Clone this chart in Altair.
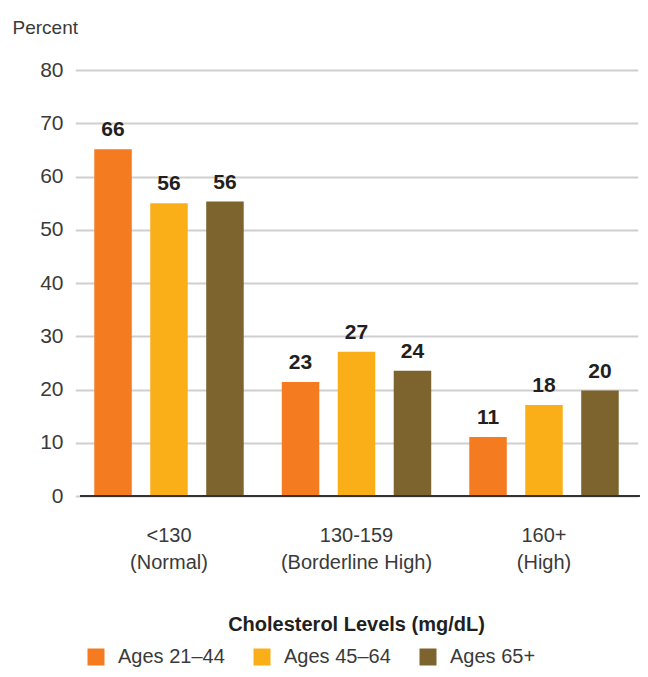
import altair as alt
import pandas as pd

# ---- data ----
categories = ["<130|(Normal)", "130-159|(Borderline High)", "160+|(High)"]
groups = ["Ages 21–44", "Ages 45–64", "Ages 65+"]
colors = ["#F47B20", "#FAAF18", "#7D632D"]

bar_ages_21_44 = [65.1, 21.4, 11.1]
bar_ages_45_64 = [55.0, 27.1, 17.1]
bar_ages_65p = [55.3, 23.5, 19.8]

lbl_ages_21_44 = [66, 23, 11]
lbl_ages_45_64 = [56, 27, 18]
lbl_ages_65p = [56, 24, 20]

y_ticks = [0, 10, 20, 30, 40, 50, 60, 70, 80]

rows = []
for g, bars, lbls in zip(groups,
                         [bar_ages_21_44, bar_ages_45_64, bar_ages_65p],
                         [lbl_ages_21_44, lbl_ages_45_64, lbl_ages_65p]):
    for c, b, l in zip(categories, bars, lbls):
        rows.append({"level": c, "group": g, "value": b, "label": str(l)})
df = pd.DataFrame(rows)

FONT = "Liberation Sans"
TXT = "#3a3a3a"

x_enc = alt.X(
    "level:N",
    sort=categories,
    scale=alt.Scale(range=[-4.75, 557.75], paddingInner=0, paddingOuter=0),
    axis=alt.Axis(
        title="Cholesterol Levels (mg/dL)",
        labelExpr="split(datum.label, '|')",
        labelAngle=0,
        labelFontSize=20,
        labelColor=TXT,
        labelLineHeight=27,
        labelBaseline="alphabetic",
        labelPadding=45,
        ticks=False,
        tickSize=0,
        domain=False,
        grid=False,
        titleFontSize=20,
        titleFontWeight="bold",
        titleColor="#231f20",
        titleX=276,
        titleY=134,
        titleBaseline="alphabetic",
        titleAlign="center",
    ),
)
xoff_enc = alt.XOffset("group:N", sort=groups,
                       scale=alt.Scale(paddingInner=0.33, paddingOuter=0.34))
y_enc = alt.Y(
    "value:Q",
    scale=alt.Scale(domain=[0, 80], nice=False),
    axis=alt.Axis(
        values=y_ticks,
        title="Percent",
        titleAngle=0,
        titleAlign="left",
        titleBaseline="alphabetic",
        titleX=-68,
        titleY=-37,
        titleFontSize=19,
        titleFontWeight="normal",
        titleColor=TXT,
        labelFontSize=21,
        labelColor=TXT,
        labelPadding=17,
        ticks=False,
        tickSize=0,
        domain=False,
        grid=True,
        gridColor="#cfcfcf",
        gridWidth=2,
    ),
)

base = alt.Chart(df)

bars = base.mark_bar().encode(
    x=x_enc,
    xOffset=xoff_enc,
    y=y_enc,
    color=alt.Color(
        "group:N",
        sort=groups,
        scale=alt.Scale(domain=groups, range=colors),
        legend=alt.Legend(
            title=None,
            orient="none",
            direction="horizontal",
            legendX=6,
            legendY=577,
            symbolType="square",
            symbolSize=289,
            symbolStrokeWidth=0,
            symbolOpacity=1,
            labelFontSize=20,
            labelColor=TXT,
            labelOffset=12,
            columnPadding=27,
            padding=0,
            labelLimit=300,
        ),
    ),
)

labels = base.mark_text(
    dy=-13, baseline="alphabetic", fontWeight="bold", fontSize=21, color="#231f20"
).encode(
    x=alt.X("level:N", sort=categories),
    xOffset=alt.XOffset("group:N", sort=groups),
    y=alt.Y("value:Q"),
    text="label:N",
)

zero = alt.Chart(pd.DataFrame({"value": [0]})).mark_rule(
    color="#333333", strokeWidth=2
).encode(y=alt.Y("value:Q"))

chart = (
    alt.layer(bars, labels, zero)
    .properties(
        width=560,
        height=426,
        autosize=alt.AutoSizeParams(type="none"),
        padding={"left": 72, "top": 62, "right": 0, "bottom": 173},
    )
    .configure(font=FONT)
    .configure_view(stroke=None)
)

chart.save("out.html", embed_options={"renderer": "svg", "actions": False})
